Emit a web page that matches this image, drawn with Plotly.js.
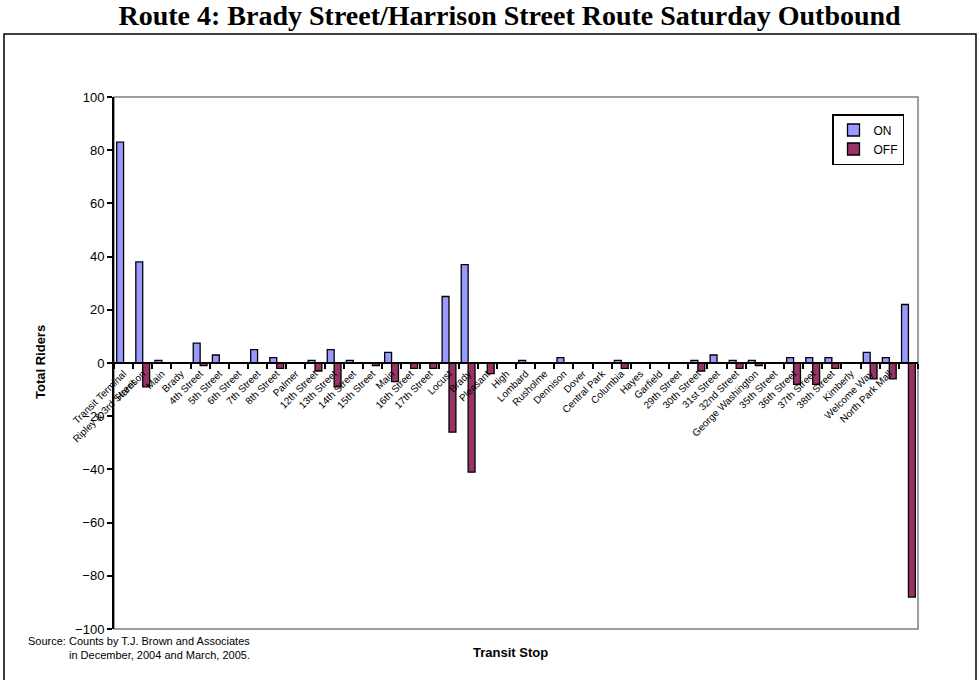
<!DOCTYPE html>
<html>
<head>
<meta charset="utf-8">
<script src="https://cdn.plot.ly/plotly-3.0.1.min.js"></script>
<style>html,body{margin:0;padding:0;background:#fff;}#chart{width:980px;height:680px;}</style>
</head>
<body>
<div id="chart"></div>
<script>
// Stop labels (42 slots; the last slot carries no label in the source chart)
var stops = [
  "Transit Terminal<br>Ripley & 3rd Street", "Harrison", "Main", "Brady", "4th Street", "5th Street",
  "6th Street", "7th Street", "8th Street", "Palmer", "12th Street", "13th Street", "14th Street",
  "15th Street", "Main", "16th Street", "17th Street", "Locust", "Brady", "Pleasant", "High",
  "Lombard", "Rusholme", "Dennison", "Dover", "Central Park", "Columbia", "Hayes", "Garfield",
  "29th Street", "30th Street", "31st Street", "32nd Street", "George Washington", "35th Street",
  "36th Street", "37th Street", "38th Street", "Kimberly", "Welcome Way", "North Park Mall", ""
];
var stopIds = stops.map(function (s, i) { return "stop" + (i + 1); });

var onRiders = [83, 38, 1, 0, 7.5, 3, 0, 5, 2, 0, 1, 5, 1, 0, 4, 0, 0, 25, 37, 0, 0,
                1, 0, 2, 0, 0, 1, 0, 0, 0, 1, 3, 1, 1, 0, 2, 2, 2, 0, 4, 2, 22];
var offRiders = [0, -9, 0, 0, -1, 0, 0, 0, -2, 0, -3, -9, 0, -1, -7, -2, -2, -26, -41, -4, 0,
                 0, 0, 0, 0, 0, -2, 0, 0, 0, -3, 0, -2, -1, 0, -8, -8, -2, 0, -6, -6, -88];

var yTicks = [-100, -80, -60, -40, -20, 0, 20, 40, 60, 80, 100];

var titleText = "Route 4: Brady Street/Harrison Street Route Saturday Outbound";
var sourceLine1 = "Source: Counts by T.J. Brown and Associates";
var sourceLine2 = "in December, 2004 and March, 2005.";

// plot area in pixels
var L = 114, R = 918, T = 97, B = 629, W = 980, H = 680;
function px(x) { return (x - L) / (R - L); }
function py(y) { return (B - y) / (B - T); }

var traces = [
  { type: "bar", name: "ON", x: stopIds, y: onRiders,
    marker: { color: "#9999FF", line: { color: "#000000", width: 1.3 } } },
  { type: "bar", name: "OFF", x: stopIds, y: offRiders,
    marker: { color: "#993366", line: { color: "#000000", width: 1.3 } } }
];

var layout = {
  width: W, height: H,
  paper_bgcolor: "#ffffff", plot_bgcolor: "#ffffff",
  margin: { l: L, r: W - R, t: T, b: H - B, pad: 0 },
  font: { family: "Liberation Sans, Arial, sans-serif", color: "#000000" },
  title: {
    text: "<b>" + titleText + "</b>",
    font: { family: "Liberation Serif, Times New Roman, serif", size: 28, color: "#000000" },
    x: 0.52, xanchor: "center", xref: "container",
    y: 1, yanchor: "top", yref: "container", pad: { t: 5, b: 0, l: 0, r: 0 }
  },
  barmode: "group", bargap: 0.28, bargroupgap: 0,
  showlegend: true,
  legend: {
    x: px(904), xanchor: "right", y: py(114), yanchor: "top",
    bgcolor: "#ffffff", bordercolor: "#000000", borderwidth: 1.5,
    font: { size: 12, family: "Liberation Sans, Arial, sans-serif" },
    tracegroupgap: 0, itemwidth: 30
  },
  xaxis: {
    type: "category", categoryorder: "array", categoryarray: stopIds,
    tickmode: "array", tickvals: stopIds, ticktext: stops,
    tickson: "boundaries", ticks: "outside", ticklen: 5, tickwidth: 2, tickcolor: "#000000",
    showline: true, linecolor: "#000000", linewidth: 2,
    anchor: "free", position: 0.5,
    tickangle: -45, tickfont: { size: 10, family: "Liberation Sans, Arial, sans-serif" },
    showgrid: false, zeroline: false, automargin: false, range: [-0.5, 41.5]
  },
  yaxis: {
    range: [-100, 100], tickmode: "array", tickvals: yTicks,
    ticks: "outside", ticklen: 5, tickwidth: 2, tickcolor: "#000000",
    showline: true, linecolor: "#000000", linewidth: 2,
    tickfont: { size: 13, family: "Liberation Sans, Arial, sans-serif" },
    showgrid: false, zeroline: false, automargin: false
  },
  shapes: [
    { type: "rect", xref: "paper", yref: "paper", x0: 0, x1: 1, y0: 0, y1: 1,
      line: { color: "#808080", width: 1.5 }, layer: "below" },
    { type: "rect", xref: "paper", yref: "paper", x0: px(4), x1: px(976), y0: py(700), y1: py(34),
      line: { color: "#000000", width: 1.5 }, layer: "below" }
  ],
  annotations: [
    { text: "<b>Total Riders</b>", xref: "paper", yref: "paper", x: px(40), y: py(362),
      xanchor: "center", yanchor: "middle", textangle: -90, showarrow: false,
      font: { size: 13, family: "Liberation Sans, Arial, sans-serif" } },
    { text: "<b>Transit Stop</b>", xref: "paper", yref: "paper", x: px(510), y: py(652),
      xanchor: "center", yanchor: "middle", showarrow: false,
      font: { size: 13, family: "Liberation Sans, Arial, sans-serif" } },
    { text: sourceLine1, xref: "paper", yref: "paper", x: px(252), y: py(641),
      xanchor: "right", yanchor: "middle", showarrow: false,
      font: { size: 11, family: "Liberation Sans, Arial, sans-serif" } },
    { text: sourceLine2, xref: "paper", yref: "paper", x: px(252), y: py(655),
      xanchor: "right", yanchor: "middle", showarrow: false,
      font: { size: 11, family: "Liberation Sans, Arial, sans-serif" } }
  ]
};

Plotly.newPlot("chart", traces, layout, { displayModeBar: false, staticPlot: true });
</script>
</body>
</html>
